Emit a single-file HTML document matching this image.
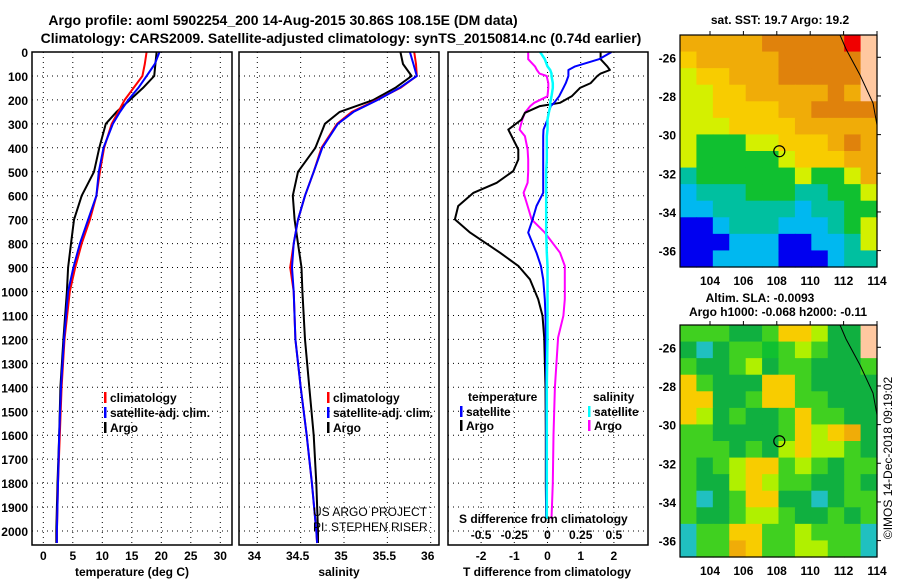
<!DOCTYPE html>
<html><head><meta charset="utf-8">
<style>
html,body{margin:0;padding:0;background:#fff;}
svg{display:block;font-family:"Liberation Sans",Arial,sans-serif;font-weight:bold;}
</style></head>
<body>
<svg id="c" width="900" height="580" viewBox="0 0 900 580" xmlns="http://www.w3.org/2000/svg">
<text x="283" y="25" font-size="14" text-anchor="middle">Argo profile: aoml 5902254_200 14-Aug-2015 30.86S 108.15E (DM data)</text>
<text x="341" y="43" font-size="14" text-anchor="middle">Climatology: CARS2009. Satellite-adjusted climatology: synTS_20150814.nc (0.74d earlier)</text>
<g id="g"></g>
</svg>
<script>
// ---- data ----
const depths = [0,50,100,150,200,250,300,400,500,600,700,800,900,1000,1200,1400,1600,1800,2000,2050];
const tempClim = [17.5,17.2,16.8,15.3,13.8,12.7,11.6,10.3,9.6,9.0,7.9,6.5,5.4,4.5,3.6,3.1,2.8,2.5,2.3,2.3];
const tempSat  = [19.7,18.9,17.5,16.1,14.4,13.0,11.8,10.2,9.4,9.0,7.6,6.2,5.1,4.2,3.5,3.0,2.7,2.5,2.3,2.3];
const tempArgo = [19.2,19.0,18.8,16.9,14.7,12.4,10.6,9.5,8.6,6.5,5.2,4.7,4.2,4.0,3.4,2.9,2.7,2.4,2.2,2.2];
const salClim = [35.81,35.83,35.84,35.65,35.38,35.09,34.92,34.74,34.65,34.55,34.47,34.42,34.38,34.42,34.44,34.50,34.57,34.63,34.68,34.69];
const salSat  = [35.76,35.80,35.84,35.64,35.39,35.11,34.93,34.75,34.65,34.55,34.47,34.42,34.40,34.42,34.44,34.50,34.57,34.63,34.68,34.69];
const salArgo = [35.65,35.68,35.78,35.59,35.34,34.95,34.78,34.67,34.47,34.41,34.43,34.47,34.51,34.52,34.55,34.60,34.65,34.68,34.70,34.70];
const diffDepths = [0,30,60,75,90,100,130,150,185,212,226,254,282,324,351,407,449,497,546,588,643,699,754,838,893,949,1032,1101,1192,1400,1600,1800,1950];
const dTArgo = [1.6,1.6,1.8,1.88,1.6,1.5,1.3,0.98,0.73,0.38,-0.23,-0.68,-0.78,-1.18,-1.08,-0.88,-0.88,-1.03,-1.53,-2.23,-2.69,-2.79,-2.33,-1.43,-0.88,-0.53,-0.28,-0.15,-0.1,-0.06,-0.05,-0.05,-0.04];
const dTSat  = [1.93,1.55,0.83,0.63,0.63,0.63,0.55,0.48,0.35,0.2,0.1,0.03,0.0,-0.12,-0.13,-0.13,-0.13,-0.13,-0.13,-0.13,-0.33,-0.45,-0.58,-0.33,-0.2,-0.13,-0.08,-0.06,-0.05,-0.04,-0.04,-0.04,-0.04];
const dSArgo = [-0.145,-0.145,-0.094,-0.08,-0.06,-0.006,0.006,0.006,0.0,-0.1,-0.13,-0.17,-0.19,-0.21,-0.17,-0.15,-0.145,-0.145,-0.15,-0.18,-0.15,-0.12,-0.02,0.094,0.13,0.13,0.13,0.12,0.08,0.056,0.045,0.04,0.03];
const dSSat  = [-0.056,-0.02,0.0,0.02,0.03,0.03,0.04,0.04,0.03,0.02,0.02,0.01,0.0,0.0,-0.005,-0.005,-0.005,-0.01,-0.01,-0.01,-0.01,-0.01,-0.01,-0.005,0.0,0.0,0.0,0.0,0.0,-0.005,-0.005,-0.005,-0.005];
const depthTicks = [0,100,200,300,400,500,600,700,800,900,1000,1100,1200,1300,1400,1500,1600,1700,1800,1900,2000];
const tTicks = [0,5,10,15,20,25,30];
const sTicks = [34,34.5,35,35.5,36];
const dtTicks = [-2,-1,0,1,2];
const dsTicks = [-0.5,-0.25,0,0.25,0.5];
const dsTickLabels = ['-0.5','-0.25','0','0.25','0.5'];
const latTicks = [-26,-28,-30,-32,-34,-36];
const lonTicks = [104,106,108,110,112,114];
const argoLon = 108.15, argoLat = -30.86;

// ---- scales ----
const Y0=52, YB=545;
const yD = d => Y0 + d*0.2395;
const xT = t => 43.3 + 5.9*t;
const xS = s => 257.3 + 86.7*(s-34);
const xDT = v => 547.5 + 33.2*v;
const xDS = v => 547.5 + 132.8*v;
const xLon = l => 710 + (l-104)*16.7;
const yLat = (a,off) => off + 57.3 + (-26-a)*19.33;

const NS='http://www.w3.org/2000/svg';
const G=document.getElementById('g');
function mk(tag, attrs, parent){const e=document.createElementNS(NS,tag);for(const k in attrs)e.setAttribute(k,attrs[k]);(parent||G).appendChild(e);return e;}
function txt(x,y,s,attrs){const e=mk('text',Object.assign({x:x,y:y,'font-size':12},attrs||{}));e.textContent=s;return e;}

const panels=[[32,232],[239,439],[448,648]];
// grid + frames
panels.forEach((p,i)=>{
  depthTicks.forEach(d=>{ if(d>0){const l=mk('line',{x1:p[0],x2:p[1],y1:yD(d),y2:yD(d),stroke:'#000','stroke-width':1,'stroke-dasharray':'1,4'});
    
    }});
});
tTicks.forEach(t=>{const l=mk('line',{x1:xT(t),x2:xT(t),y1:Y0,y2:YB,stroke:'#000','stroke-dasharray':'1,4'});
  
  
  const e=txt(xT(t),560,String(t),{'text-anchor':'middle'});
  
  });
sTicks.forEach(s=>{const l=mk('line',{x1:xS(s),x2:xS(s),y1:Y0,y2:YB,stroke:'#000','stroke-dasharray':'1,4'});
  
  
  const e=txt(xS(s)-3,560,String(s),{'text-anchor':'middle'});
  
  });
dtTicks.forEach(t=>{const l=mk('line',{x1:xDT(t),x2:xDT(t),y1:Y0,y2:YB,stroke:'#000','stroke-dasharray':'1,4'});
  
  
  const e=txt(xDT(t),560,String(t),{'text-anchor':'middle'});
  
  });
dsTicks.forEach((s,i)=>{const e=txt(xDS(s),539,dsTickLabels[i],{'text-anchor':'middle'});
  
  });
depthTicks.forEach(d=>{const e=txt(28,yD(d)+5,String(d),{'text-anchor':'end'});
  
  });

function line(xs, ds, xf, color, w, name){
  const pts=xs.map((v,i)=>xf(v).toFixed(1)+','+yD(ds[i]).toFixed(1)).join(' ');
  const e=mk('polyline',{points:pts,fill:'none',stroke:color,'stroke-width':w,'stroke-linejoin':'round'});
  
  
}
line(tempArgo,depths,xT,'#000',2,'temp-argo-line');
line(tempClim,depths,xT,'#f00',2,'temp-clim-line');
line(tempSat,depths,xT,'#00f',2,'temp-sat-line');
line(salArgo,depths,xS,'#000',2,'sal-argo-line');
line(salClim,depths,xS,'#f00',2,'sal-clim-line');
line(salSat,depths,xS,'#00f',2,'sal-sat-line');
line(dSArgo,diffDepths,xDS,'#f0f',2,'sdiff-argo-line');
line(dTArgo,diffDepths,xDT,'#000',2,'tdiff-argo-line');
line(dTSat,diffDepths,xDT,'#00f',2,'tdiff-sat-line');
line(dSSat,diffDepths,xDS,'#0ff',2.5,'sdiff-sat-line');

panels.forEach(p=>{const r=mk('rect',{x:p[0],y:Y0,width:p[1]-p[0],height:YB-Y0,fill:'none',stroke:'#000','stroke-width':1.5});
  
  });

// legends
function leg(x,y,color,label,name){
  const m=mk('rect',{x:x,y:y-10,width:2.5,height:11,fill:color});
  
  
  const t=txt(x+6,y,label);
  
  
}
leg(104,402,'#f00','climatology','legend-temp-clim');
leg(104,417,'#00f','satellite-adj. clim.','legend-temp-sat');
leg(104,432,'#000','Argo','legend-temp-argo');
leg(327,402,'#f00','climatology','legend-sal-clim');
leg(327,417,'#00f','satellite-adj. clim.','legend-sal-sat');
leg(327,432,'#000','Argo','legend-sal-argo');
let t1=txt(468,401,'temperature');
leg(460,416,'#00f','satellite','legend-tdiff-sat');
leg(460,430,'#000','Argo','legend-tdiff-argo');
let t2=txt(593,401,'salinity');
leg(588,416,'#0ff','satellite','legend-sdiff-sat');
leg(588,430,'#f0f','Argo','legend-sdiff-argo');
[['US ARGO PROJECT',313,516,'pi-project'],['PI: STEPHEN RISER',313,531,'pi-name'],['S difference from climatology',459,523,'sdiff-axis-title'],
 ['temperature (deg C)',132,576,'temp-axis-title'],['salinity',339,576,'sal-axis-title'],['T difference from climatology',547,576,'tdiff-axis-title']].forEach(a=>{
  const e=txt(a[1],a[2],a[0],{'text-anchor':(a[3].indexOf('pi')===0||a[3]==='sdiff-axis-title')?'start':'middle','font-weight':a[3].indexOf('pi')===0?'normal':'bold'});
  
  
});

// ---- maps ----
const cols={O:'#e0820c',o:'#f0ac08',Y:'#f8cc00',y:'#d4f000',G:'#10c030',g:'#40d020',D:'#10b040',T:'#00c0a0',C:'#00b8f0',B:'#0000f0',L:'#ffc8a0',R:'#f00000',v:'#b0f000',t:'#20c0c0'};
const sst=['oooooOOOOORL','YoooooOOOOOL','yYYoooOOOOOL','yyYYoooooOoL','yyYYYYooOOOO','yyyYYYYooooo','yGGGyyYYYoOo','yGGGGGyYYYoo','TGGGGGGyGGyo','CTTTGGGTTGGy','CCTTTTTCTTGG','BBCTTTCCCTGy','BBBCCCBBCCTy','BBCCCCBBBCTT'];
const sla=['gggDDgYYvDDL','DtDggGgvgDDL','gDDgvDggDDDg','YgDDDYYgDDDD','YYDDgYYggDDD','YvDgDDgYggDD','ggDDDDgYvYoD','gggDgDvYvvgD','gDgvYYgvgDgg','gDDvYvggDDgD','gtDgYYDDtDgg','gDDgvvgDDgDg','tggYYggvgggt','tggoYggvvggt'];
function drawMap(grid, off, name){
  const x0=680,x1=877,y0=35+off,y1=267+off;
  const cw=(x1-x0)/12, rh=(y1-y0)/14;
  grid.forEach((row,r)=>{for(let c=0;c<12;c++){
    const e=mk('rect',{x:(x0+c*cw).toFixed(2),y:(y0+r*rh).toFixed(2),width:(cw+0.6).toFixed(2),height:(rh+0.6).toFixed(2),fill:cols[row[c]]});
    
    }});
  const cl=mk('polyline',{points:`840,${y0} 846,${y0+14} 860,${y0+40} 873,${y0+68} 877,${y0+90}`,fill:'none',stroke:'#000','stroke-width':1});
  
  
  const ci=mk('circle',{cx:xLon(argoLon),cy:yLat(argoLat,off),r:5.5,fill:'none',stroke:'#000','stroke-width':1.2});
  
  
  const fr=mk('rect',{x:x0,y:y0,width:x1-x0,height:y1-y0,fill:'none',stroke:'#000','stroke-width':1.2});
  
  
  latTicks.forEach(a=>{const e=txt(676,yLat(a,off)+5,String(a),{'text-anchor':'end'});
    
    
    mk('line',{x1:x1,x2:x1+4,y1:yLat(a,off),y2:yLat(a,off),stroke:'#000'});});
  lonTicks.forEach(l=>{const e=txt(xLon(l),y1+18,String(l),{'text-anchor':'middle'});
    
    
    mk('line',{x1:xLon(l),x2:xLon(l),y1:y0-4,y2:y0,stroke:'#000'});});
}
drawMap(sst,0,'sst-map');
drawMap(sla,290,'sla-map');
[['sat. SST: 19.7 Argo: 19.2',780,24,'sst-map-title'],['Altim. SLA: -0.0093',760,302,'sla-map-title'],['Argo h1000: -0.068 h2000: -0.11',778,316,'sla-map-subtitle']].forEach(a=>{
  const e=txt(a[1],a[2],a[0],{'text-anchor':'middle'});
  
  
});
const cr=txt(0,0,'\u00A9IMOS 14-Dec-2018 09:19:02',{'text-anchor':'middle','font-weight':'normal','transform':'translate(892,458) rotate(-90)'});


</script>
</body></html>
